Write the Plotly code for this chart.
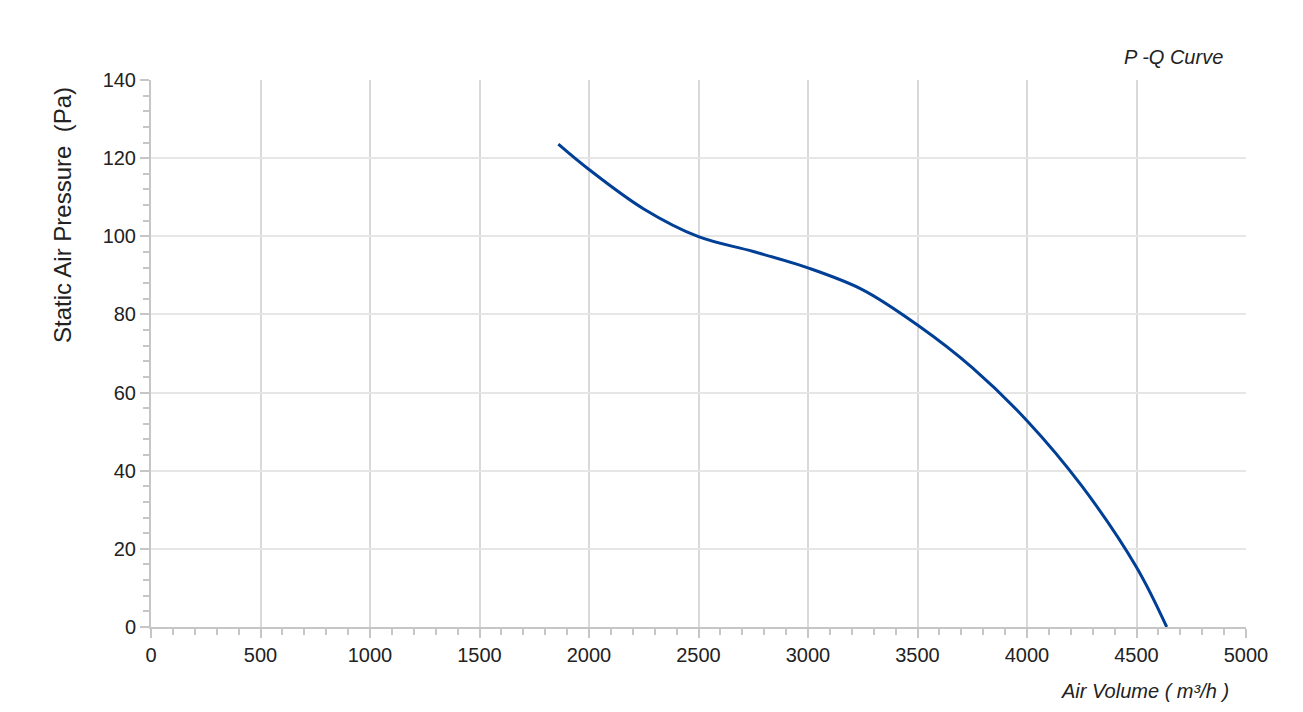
import plotly.graph_objects as go

air_volume = [1860, 2000, 2250, 2500, 2750, 3000, 3250, 3500, 3750, 4000, 4250, 4500, 4638]
pressure = [123.6, 117.1, 107.0, 99.9, 96.1, 91.9, 86.3, 77.3, 66.4, 52.8, 36.1, 15.3, 0.0]

x_ticks = [0, 500, 1000, 1500, 2000, 2500, 3000, 3500, 4000, 4500, 5000]
y_ticks = [0, 20, 40, 60, 80, 100, 120, 140]

font = "Liberation Sans, Arial, sans-serif"

# page body has an 8px margin; compensate so the plot area lands at x 151..1246, y 80..627
fig = go.Figure()
fig.add_trace(go.Scatter(
    x=air_volume, y=pressure, mode="lines",
    line=dict(color="#003f96", width=3, shape="spline", smoothing=1.0),
    hoverinfo="x+y", showlegend=False,
))

fig.update_layout(
    width=1295, height=704,
    margin=dict(l=143, r=57, t=72, b=85),
    plot_bgcolor="white", paper_bgcolor="white",
    font=dict(family=font, color="#222222"),
    xaxis=dict(
        range=[0, 5000], tickvals=x_ticks, ticktext=[str(v) for v in x_ticks],
        showgrid=True, gridcolor="#d9d9d9", gridwidth=2,
        showline=True, linecolor="#c6c6c6", linewidth=2,
        ticks="outside", ticklen=9, tickwidth=2, tickcolor="#c6c6c6",
        tickfont=dict(size=20, color="#222222"),
        minor=dict(dtick=100, ticks="outside", ticklen=6, tickwidth=2, tickcolor="#c6c6c6", showgrid=False),
        zeroline=False, fixedrange=True,
    ),
    yaxis=dict(
        range=[0, 140], tickvals=y_ticks, ticktext=[str(v) for v in y_ticks],
        showgrid=True, gridcolor="#e6e6e6", gridwidth=2,
        showline=True, linecolor="#c6c6c6", linewidth=2,
        ticks="outside", ticklen=9, tickwidth=2, tickcolor="#c6c6c6",
        tickfont=dict(size=20, color="#222222"),
        minor=dict(dtick=4, ticks="outside", ticklen=6, tickwidth=2, tickcolor="#c6c6c6", showgrid=False),
        zeroline=False, fixedrange=True,
    ),
    annotations=[
        dict(text="<i>P -Q Curve</i>", xref="paper", yref="paper", x=(1225 - 151) / 1095, y=1,
             xanchor="right", yanchor="bottom", yshift=10, showarrow=False,
             font=dict(size=20, color="#222222", family=font)),
        dict(text="<i>Air Volume ( m³/h )</i>", xref="paper", yref="paper", x=(1231 - 151) / 1095, y=0,
             xanchor="right", yanchor="top", yshift=-51, showarrow=False,
             font=dict(size=20, color="#222222", family=font)),
        dict(text="Static Air Pressure  (Pa)", xref="paper", yref="paper", x=0, y=(627 - 215) / 547,
             xanchor="center", yanchor="middle", xshift=-89, textangle=-90, showarrow=False,
             font=dict(size=24, color="#222222", family=font)),
    ],
)

fig.write_html("out.html")
